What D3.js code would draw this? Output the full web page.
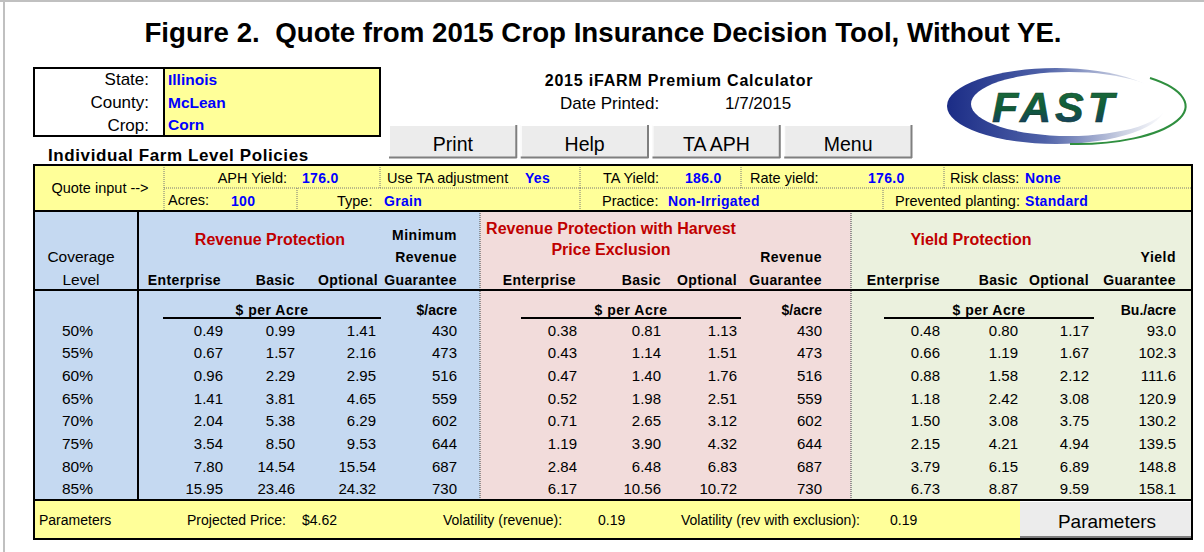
<!DOCTYPE html>
<html>
<head>
<meta charset="utf-8">
<script src="https://cdn.jsdelivr.net/npm/d3@7"></script>
<style>
  body { margin: 0; background: #fff; }
  svg { display: block; font-family: "Liberation Sans", Arial, sans-serif; }
  text { white-space: pre; }
</style>
</head>
<body>
<svg id="sheet" width="1204" height="552"></svg>
<script>
// ---------------- data ----------------
const coverage = ["50%", "55%", "60%", "65%", "70%", "75%", "80%", "85%"]

const rpEnterprise = [0.49, 0.67, 0.96, 1.41, 2.04, 3.54, 7.80, 15.95]
const rpBasic      = [0.99, 1.57, 2.29, 3.81, 5.38, 8.50, 14.54, 23.46]
const rpOptional   = [1.41, 2.16, 2.95, 4.65, 6.29, 9.53, 15.54, 24.32]
const rpGuarantee  = [430, 473, 516, 559, 602, 644, 687, 730]

const hpeEnterprise = [0.38, 0.43, 0.47, 0.52, 0.71, 1.19, 2.84, 6.17]
const hpeBasic      = [0.81, 1.14, 1.40, 1.98, 2.65, 3.90, 6.48, 10.56]
const hpeOptional   = [1.13, 1.51, 1.76, 2.51, 3.12, 4.32, 6.83, 10.72]
const hpeGuarantee  = [430, 473, 516, 559, 602, 644, 687, 730]

const ypEnterprise = [0.48, 0.66, 0.88, 1.18, 1.50, 2.15, 3.79, 6.73]
const ypBasic      = [0.80, 1.19, 1.58, 2.42, 3.08, 4.21, 6.15, 8.87]
const ypOptional   = [1.17, 1.67, 2.12, 3.08, 3.75, 4.94, 6.89, 9.59]
const ypGuarantee  = [93.0, 102.3, 111.6, 120.9, 130.2, 139.5, 148.8, 158.1]

const locationLabels = ["State:", "County:", "Crop:"]
const locationValues = ["Illinois", "McLean", "Corn"]
const buttonLabels = ["Print", "Help", "TA APH", "Menu"]

// ---------------- layout ----------------
const W = 1204, H = 552
const LEFT = 34, RIGHT = 1192
const BLUE = "#c5d9f1", PINK = "#f2dcdb", GREEN = "#ebf1de", YELLOW = "#ffff99"
const VALUE_BLUE = "#0000ff", HEAD_RED = "#c00000"

const svg = d3.select("#sheet")

// frame of the screenshot
svg.append("rect").attr("x", 0).attr("y", 0).attr("width", W).attr("height", H).attr("fill", "#fff")
svg.append("line").attr("x1", 4).attr("x2", 4).attr("y1", 0).attr("y2", H).attr("stroke", "#c0c0c0").attr("stroke-width", 2)
svg.append("line").attr("x1", 0).attr("x2", W).attr("y1", 1).attr("y2", 1).attr("stroke", "#c0c0c0").attr("stroke-width", 2)

// title
svg.append("text").attr("x", 603).attr("y", 42).attr("text-anchor", "middle")
  .attr("font-size", 27.7).attr("font-weight", "bold")
  .text("Figure 2.  Quote from 2015 Crop Insurance Decision Tool, Without YE.")

// helpers
function box(x, y, w, h, fill, stroke, sw, dash) {
  return svg.append("rect").attr("x", x).attr("y", y).attr("width", w).attr("height", h)
    .attr("fill", fill || "none").attr("stroke", stroke || "none")
    .attr("stroke-width", sw || 1).attr("stroke-dasharray", dash || null)
}
function line(x1, y1, x2, y2, stroke, sw, dash) {
  return svg.append("line").attr("x1", x1).attr("y1", y1).attr("x2", x2).attr("y2", y2)
    .attr("stroke", stroke || "#000").attr("stroke-width", sw || 1).attr("stroke-dasharray", dash || null)
}
function label(x, y, txt, opts) {
  opts = opts || {}
  return svg.append("text").attr("x", x).attr("y", y)
    .attr("text-anchor", opts.anchor || "start")
    .attr("font-size", opts.size || 13)
    .attr("font-weight", opts.bold ? "bold" : "normal")
    .attr("fill", opts.color || "#000")
    .attr("letter-spacing", opts.ls || null)
    .text(txt)
}

// ---------------- location box ----------------
box(164, 68, 216, 68, YELLOW)
box(LEFT, 68, 346, 68, "none", "#000", 2)
line(164, 68, 164, 136, "#000", 2)
const locY = d3.scaleBand().domain(locationLabels).range([68, 136])
locationLabels.forEach((l, i) => {
  const cy = locY(l) + locY.bandwidth() / 2 + 6
  label(149, cy, l, {anchor: "end", size: 17})
  label(168, cy - 0.5, locationValues[i], {size: 15.5, bold: true, color: VALUE_BLUE})
})
label(48, 161, "Individual Farm Level Policies", {size: 17, bold: true, ls: 0.6})

// ---------------- calculator header ----------------
label(679, 86, "2015 iFARM Premium Calculator", {anchor: "middle", size: 16, bold: true, ls: 0.8})
label(560, 109, "Date Printed:", {size: 17})
label(725, 109, "1/7/2015", {size: 17})

const btnX = d3.scaleBand().domain(buttonLabels).range([389, 912]).paddingInner(0.03)
buttonLabels.forEach(b => {
  const x = btnX(b), w = btnX.bandwidth()
  box(x, 125, w, 33, "#ececec")
  line(x, 125.5, x + w, 125.5, "#fff", 1)
  line(x + 0.5, 125, x + 0.5, 158, "#fff", 1)
  line(x, 157.5, x + w, 157.5, "#7f7f7f", 2)
  line(x + w - 0.5, 125, x + w - 0.5, 158, "#7f7f7f", 2)
  label(x + w / 2, 151, b, {anchor: "middle", size: 19.5})
})

// FAST logo
const defs = svg.append("defs")
const g1 = defs.append("linearGradient").attr("id", "ring").attr("x1", 0).attr("x2", 1)
g1.append("stop").attr("offset", 0).attr("stop-color", "#1b2c86")
g1.append("stop").attr("offset", 0.45).attr("stop-color", "#4f62a8")
g1.append("stop").attr("offset", 0.8).attr("stop-color", "#c9cfe2")
g1.append("stop").attr("offset", 1).attr("stop-color", "#ffffff")
const g2 = defs.append("linearGradient").attr("id", "word").attr("x1", 0).attr("x2", 0).attr("y1", 0).attr("y2", 1)
g2.append("stop").attr("offset", 0).attr("stop-color", "#1f6f3a")
g2.append("stop").attr("offset", 0.55).attr("stop-color", "#0f5b3a")
g2.append("stop").attr("offset", 1).attr("stop-color", "#1b2f7a")
svg.append("ellipse").attr("cx", 1056).attr("cy", 106).attr("rx", 109).attr("ry", 38).attr("fill", "url(#ring)")
svg.append("ellipse").attr("cx", 1069).attr("cy", 104).attr("rx", 98).attr("ry", 32).attr("fill", "#fff")
svg.append("path").attr("d", "M1150,78 A109,38 0 0 1 1070,144").attr("fill", "none").attr("stroke", "#2f8f3f").attr("stroke-width", 2)
svg.append("text").attr("x", 1055).attr("y", 122).attr("text-anchor", "middle")
  .attr("font-size", 43).attr("font-weight", "bold").attr("font-style", "italic")
  .attr("letter-spacing", 4)
  .attr("fill", "url(#word)").attr("stroke", "#0c3d2a").attr("stroke-width", 0.6)
  .text("FAST")

// ---------------- quote input ----------------
const QS = 14.5, QV = 14
box(LEFT, 165, RIGHT - LEFT, 46, YELLOW)
const dot = "1,1"
line(164, 165, 164, 211, "#777", 1, dot)
line(164, 188, RIGHT, 188, "#777", 1, dot)
;[380, 580, 741, 944].forEach(x => line(x, 165, x, 188, "#777", 1, dot))
;[297, 580, 883].forEach(x => line(x, 188, x, 211, "#777", 1, dot))
box(LEFT, 165, RIGHT - LEFT, 46, "none", "#000", 2)
label(100, 193, "Quote input -->", {anchor: "middle", size: QS})

label(287, 183, "APH Yield:", {anchor: "end", size: QS})
label(302, 183, "176.0", {size: QV, bold: true, color: VALUE_BLUE, ls: 0.3})
label(387, 183, "Use TA adjustment", {size: QS})
label(525, 183, "Yes", {size: QV, bold: true, color: VALUE_BLUE, ls: 0.3})
label(603, 183, "TA Yield:", {size: QS})
label(685, 183, "186.0", {size: QV, bold: true, color: VALUE_BLUE, ls: 0.3})
label(750, 183, "Rate yield:", {size: QS})
label(868, 183, "176.0", {size: QV, bold: true, color: VALUE_BLUE, ls: 0.3})
label(950, 183, "Risk class:", {size: QS})
label(1025, 183, "None", {size: QV, bold: true, color: VALUE_BLUE, ls: 0.3})

label(168, 205, "Acres:", {size: QS})
label(231, 206, "100", {size: QV, bold: true, color: VALUE_BLUE, ls: 0.3})
label(337, 206, "Type:", {size: QS})
label(384, 206, "Grain", {size: QV, bold: true, color: VALUE_BLUE, ls: 0.3})
label(602, 206, "Practice:", {size: QS})
label(668, 206, "Non-Irrigated", {size: QV, bold: true, color: VALUE_BLUE, ls: 0.3})
label(895, 206, "Prevented planting:", {size: QS})
label(1025, 206, "Standard", {size: QV, bold: true, color: VALUE_BLUE, ls: 0.3})

// ---------------- main table ----------------
const TOP = 211, HEAD_BOTTOM = 290, BOTTOM = 500
box(LEFT, TOP, 480 - LEFT, BOTTOM - TOP, BLUE)
box(480, TOP, 851 - 480, BOTTOM - TOP, PINK)
box(851, TOP, RIGHT - 851, BOTTOM - TOP, GREEN)
line(480, TOP, 480, BOTTOM, "#777", 1.5, dot)
line(851, TOP, 851, BOTTOM, "#777", 1.5, dot)
line(LEFT, HEAD_BOTTOM, RIGHT, HEAD_BOTTOM, "#000", 2)
line(138, TOP, 138, BOTTOM, "#000", 2)

label(81, 262, "Coverage", {anchor: "middle", size: 15.5})
label(81, 285, "Level", {anchor: "middle", size: 15.5})

const sections = [
  {title: ["Revenue Protection"], titleX: 270, titleY: [245],
   extra: ["Minimum", "Revenue"], extraX: 457,
   heads: [["Enterprise", 221], ["Basic", 295], ["Optional", 378], ["Guarantee", 457]],
   cols: [rpEnterprise, rpBasic, rpOptional, rpGuarantee],
   colX: [223, 295, 376, 457], unit: "$/acre", rule: [163, 381],
   fmt: [".2f", ".2f", ".2f", "d"]},
  {title: ["Revenue Protection with Harvest", "Price Exclusion"], titleX: 611, titleY: [234, 255],
   extra: ["Revenue"], extraX: 822,
   heads: [["Enterprise", 576], ["Basic", 661], ["Optional", 737], ["Guarantee", 822]],
   cols: [hpeEnterprise, hpeBasic, hpeOptional, hpeGuarantee],
   colX: [577, 661, 737, 822], unit: "$/acre", rule: [521, 741],
   fmt: [".2f", ".2f", ".2f", "d"]},
  {title: ["Yield Protection"], titleX: 971, titleY: [245],
   extra: ["Yield"], extraX: 1176,
   heads: [["Enterprise", 940], ["Basic", 1018], ["Optional", 1089], ["Guarantee", 1176]],
   cols: [ypEnterprise, ypBasic, ypOptional, ypGuarantee],
   colX: [940, 1018, 1089, 1176], unit: "Bu./acre", rule: [884, 1094],
   fmt: [".2f", ".2f", ".2f", ".1f"]}
]

// rows through a band scale
const rowY = d3.scaleBand().domain(coverage).range([319.5, 500.5])
const mid = d => rowY(d) + rowY.bandwidth() / 2 + 5

svg.append("g").selectAll("text").data(coverage).join("text")
  .attr("x", 62).attr("y", mid).attr("font-size", 15.5).text(d => d)

sections.forEach(s => {
  s.title.forEach((t, i) => label(s.titleX, s.titleY[i], t, {anchor: "middle", size: 16, bold: true, color: HEAD_RED}))
  const ex = s.extra.length === 2 ? [240, 262] : [262]
  s.extra.forEach((t, i) => label(s.extraX, ex[i], t, {anchor: "end", size: 14, bold: true, ls: 0.5}))
  s.heads.forEach(h => label(h[1], 285, h[0], {anchor: "end", size: 14, bold: true, ls: 0.4}))
  label((s.rule[0] + s.rule[1]) / 2, 315, "$ per Acre", {anchor: "middle", size: 14, bold: true, ls: 0.5})
  line(s.rule[0], 318, s.rule[1], 318, "#000", 2)
  label(s.colX[3], 315, s.unit, {anchor: "end", size: 14, bold: true})
  s.cols.forEach((vals, ci) => {
    const f = d3.format(s.fmt[ci])
    svg.append("g").selectAll("text").data(vals).join("text")
      .attr("x", s.colX[ci]).attr("y", (d, i) => mid(coverage[i]))
      .attr("text-anchor", "end").attr("font-size", 15)
      .text(d => f(d))
  })
})
box(LEFT, TOP, RIGHT - LEFT, BOTTOM - TOP, "none", "#000", 2)

// ---------------- parameters ----------------
const PS = 14
box(LEFT, 500, RIGHT - LEFT, 39, YELLOW)
label(39, 525, "Parameters", {size: PS})
label(187, 525, "Projected Price:", {size: PS})
label(302, 525, "$4.62", {size: PS})
label(443, 525, "Volatility (revenue):", {size: PS})
label(598, 525, "0.19", {size: PS})
label(681, 525, "Volatility (rev with exclusion):", {size: PS})
label(890, 525, "0.19", {size: PS})
box(1020, 501, RIGHT - 1020, 37, "#ececec")
line(1020, 501.5, RIGHT, 501.5, "#fff", 1)
line(1020, 537, RIGHT, 537, "#7f7f7f", 2)
label(1107, 528, "Parameters", {anchor: "middle", size: 19})
box(LEFT, 500, RIGHT - LEFT, 39, "none", "#000", 2)
</script>
</body>
</html>
